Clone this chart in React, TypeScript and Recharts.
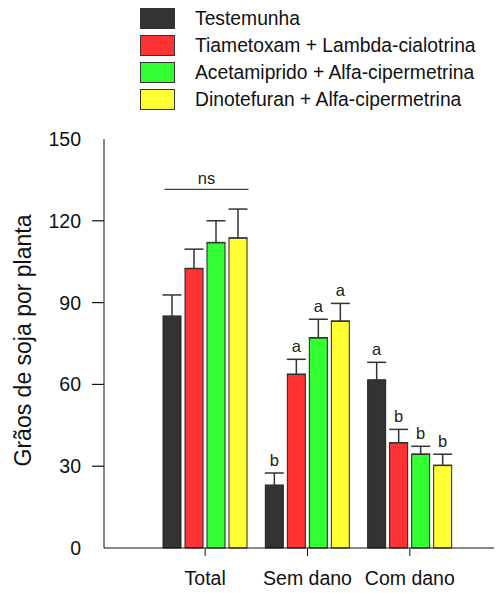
import React from 'react';
import { BarChart, Bar, XAxis, YAxis, ErrorBar, Legend, LabelList, Label } from 'recharts';

const categories = ['Total', 'Sem dano', 'Com dano'];
const seriesNames = [
  'Testemunha',
  'Tiametoxam + Lambda-cialotrina',
  'Acetamiprido + Alfa-cipermetrina',
  'Dinotefuran + Alfa-cipermetrina',
];
const seriesColors = ['#333333', '#ff3333', '#33ff33', '#ffff33'];

const testemunha = [85.0, 23.0, 61.6];
const tiametoxam = [102.5, 63.7, 38.6];
const acetamiprido = [112.0, 77.1, 34.4];
const dinotefuran = [113.7, 83.2, 30.3];

const testemunhaErr = [7.8, 4.5, 6.5];
const tiametoxamErr = [7.1, 5.5, 4.9];
const acetamipridoErr = [8.0, 6.8, 2.9];
const dinotefuranErr = [10.6, 6.5, 4.1];

const testemunhaLetters = ['', 'b', 'a'];
const tiametoxamLetters = ['', 'a', 'b'];
const acetamipridoLetters = ['', 'a', 'b'];
const dinotefuranLetters = ['', 'a', 'b'];

const yTicks = [0, 30, 60, 90, 120, 150];
const nsText = 'ns';
const nsLevel = 131.5;
const yLabel = 'Grãos de soja por planta';

const values = [testemunha, tiametoxam, acetamiprido, dinotefuran];
const errors = [testemunhaErr, tiametoxamErr, acetamipridoErr, dinotefuranErr];
const letters = [testemunhaLetters, tiametoxamLetters, acetamipridoLetters, dinotefuranLetters];

const data = categories.map((c, i) => {
  const row: any = { name: c };
  values.forEach((v, s) => {
    row['s' + s] = v[i];
    row['e' + s] = [0, errors[s][i]];
  });
  return row;
});

const FONT = '"Liberation Sans", Arial, sans-serif';

const makeLabel = (si: number) => (props: any) => {
  const x = Number(props.x);
  const y = Number(props.y);
  const width = Number(props.width);
  const height = Number(props.height);
  const index = props.index;
  const v = values[si][index];
  const e = errors[si][index];
  const ppu = height / v;
  const top = y - e * ppu;
  const letter = letters[si][index];
  const els: any[] = [];
  if (letter) {
    els.push(
      <text key="l" x={x + width / 2} y={top - 7} textAnchor="middle" fontSize={16.5} fill="#222" fontFamily={FONT}>
        {letter}
      </text>
    );
  }
  if (si === 0 && index === 0) {
    const ly = y - (nsLevel - v) * ppu;
    const x1 = x + 1.5;
    const x2 = x + width * 4.75;
    els.push(<line key="nl" x1={x1} x2={x2} y1={ly} y2={ly} stroke="#444" strokeWidth={1.2} />);
    els.push(
      <text key="nt" x={(x1 + x2) / 2} y={ly - 5} textAnchor="middle" fontSize={16.5} fill="#222" fontFamily={FONT}>
        {nsText}
      </text>
    );
  }
  return <g>{els}</g>;
};

const YTick = (props: any) => {
  const { x, y, payload } = props;
  const v = payload.value;
  return (
    <g>
      <text x={x} y={y} dy="0.36em" textAnchor="end" fontSize={19.5} fill="#111" fontFamily={FONT}>
        {v}
      </text>
      {v !== 150 && v !== 0 && <line x1={x + 11} x2={x + 23} y1={y} y2={y} stroke="#111" strokeWidth={1.2} />}
    </g>
  );
};

const LegendContent = () => (
  <div style={{ fontFamily: FONT, fontSize: 19.3, color: '#111' }}>
    {seriesNames.map((n, i) => (
      <div key={n} style={{ display: 'flex', alignItems: 'center', height: 27 }}>
        <div
          style={{
            width: 35,
            height: 21,
            background: seriesColors[i],
            border: '1.5px solid #333',
            boxSizing: 'border-box',
          }}
        />
        <span style={{ marginLeft: 20, lineHeight: 1, whiteSpace: 'nowrap' }}>{n}</span>
      </div>
    ))}
  </div>
);

export default function App() {
  return (
    <BarChart
      width={494}
      height={585}
      data={data}
      margin={{ top: 131, right: 7, left: 0, bottom: 0 }}
      barCategoryGap={9}
      barGap={4}
      style={{ fontFamily: FONT }}
    >
      <Legend
        layout="horizontal"
        verticalAlign="middle"
        align="center"
        wrapperStyle={{ top: -3, left: 132, width: 'auto' }}
        content={<LegendContent />}
      />
      <XAxis
        dataKey="name"
        padding={{ left: 50, right: 34 }}
        height={45}
        tickSize={8}
        tickMargin={15}
        stroke="#111"
        tick={{ fontSize: 19.5, fill: '#111', fontFamily: FONT }}
      />
      <YAxis
        width={96}
        domain={[0, 150]}
        ticks={yTicks}
        interval={0}
        tickSize={12}
        tickMargin={11}
        tickLine={false}
        stroke="#111"
        tick={<YTick />}
      >
        <Label
          content={(p: any) => {
            const vb = p.viewBox;
            const cx = vb.x + 15;
            const cy = vb.y + vb.height / 2 - 3;
            return (
              <text
                x={cx}
                y={cy}
                transform={`rotate(-90 ${cx} ${cy})`}
                textAnchor="middle"
                dominantBaseline="central"
                fontSize={23}
                fill="#111"
                fontFamily={FONT}
              >
                {yLabel}
              </text>
            );
          }}
        />
      </YAxis>
      {seriesNames.map((n, s) => (
        <Bar
          key={n}
          dataKey={'s' + s}
          name={n}
          fill={seriesColors[s]}
          stroke="#222"
          strokeWidth={1}
          isAnimationActive={false}
        >
          <ErrorBar dataKey={'e' + s} width={9.5} stroke="#333" strokeWidth={1.5} direction="y" />
          <LabelList dataKey={'s' + s} content={makeLabel(s)} />
        </Bar>
      ))}
    </BarChart>
  );
}
